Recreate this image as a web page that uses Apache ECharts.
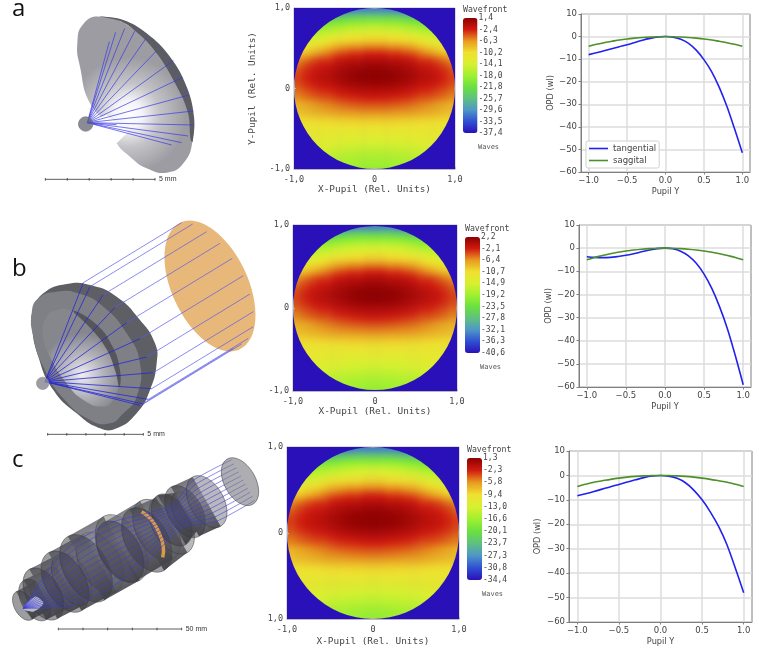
<!DOCTYPE html>
<html>
<head>
<meta charset="utf-8">
<style>
  html, body { margin: 0; padding: 0; background: #fff; }
  #stage { position: relative; width: 759px; height: 651px; overflow: hidden; }
  #chart { position: absolute; left: 0; top: 0; width: 759px; height: 651px; z-index: 2; filter: blur(0.45px); }
  .pupil { position: absolute; overflow: hidden; z-index: 1; }
  .pupil div { position: absolute; filter: blur(2px); }
</style>
<script src="https://cdn.jsdelivr.net/npm/echarts@6/dist/echarts.min.js"></script>
</head>
<body>
<div id="stage"><div id="chart"></div></div>
<script>
// OPD fans
var pupilY = [-1, -0.9, -0.8, -0.7, -0.6, -0.5, -0.4, -0.3, -0.2, -0.1, 0, 0.1, 0.2, 0.3, 0.4, 0.5, 0.6, 0.7, 0.8, 0.9, 1];
var tangentialA = [-8, -7.2, -6.3, -5.4, -4.5, -3.6, -2.6, -1.6, -0.8, -0.2, 0, -0.3, -1.2, -3, -6, -10.2, -15.5, -22.5, -31, -41, -51.5];
var saggitalA = [-4.3, -3.4, -2.7, -2.1, -1.5, -1.05, -0.7, -0.4, -0.18, -0.05, 0, -0.05, -0.18, -0.4, -0.7, -1.05, -1.5, -2.1, -2.7, -3.4, -4.3];
var tangentialB = [-3.7, -4, -4.1, -4, -3.6, -3.1, -2.4, -1.6, -0.8, -0.2, 0, -0.3, -1.3, -3.3, -6.5, -11.2, -17.5, -25.5, -35, -46.5, -59];
var saggitalB = [-5, -4, -3.2, -2.4, -1.8, -1.25, -0.8, -0.45, -0.2, -0.05, 0, -0.05, -0.2, -0.45, -0.8, -1.25, -1.8, -2.4, -3.2, -4, -5];
var tangentialC = [-8.3, -7.5, -6.6, -5.6, -4.6, -3.7, -2.7, -1.8, -0.9, -0.25, 0, -0.3, -1.2, -3, -6, -10, -15, -21, -28.5, -38, -48];
var saggitalC = [-4.5, -3.6, -2.8, -2.2, -1.6, -1.1, -0.7, -0.4, -0.18, -0.05, 0, -0.05, -0.18, -0.4, -0.7, -1.1, -1.6, -2.2, -2.8, -3.6, -4.5];
var xTicks = [-1, -0.5, 0, 0.5, 1];

// wavefront maps: one row per line from pupil top to bottom, columns from x=0 out to the rim (mirror in x)
var waveA = [
  [-31, -31, -31, -31.5, -32],
  [-25, -25, -25, -25.5, -26, -26.5],
  [-20.5, -20.5, -20.5, -21, -21.5, -22, -22.5],
  [-17, -17, -17.5, -17.5, -18, -18.5, -19.5, -20],
  [-14.5, -14.5, -14.5, -15, -15.5, -16, -17, -17.5, -18.5],
  [-12, -12, -12.5, -12.5, -13, -13.5, -14.5, -15, -16],
  [-9.5, -9.5, -10, -10, -10.5, -11, -12, -13, -14, -15],
  [-7, -7, -7.5, -7.5, -8, -8.5, -9.5, -10.5, -11.5, -12.5],
  [-4.5, -4.5, -5, -5, -5.5, -6, -7, -8, -9, -10],
  [-2.5, -2.5, -3, -3, -3.5, -4, -5, -6, -7, -8, -8.5],
  [-1, -1, -1.5, -1.5, -2, -2.5, -3.5, -3.6, -4.3, -5.5, -6.3],
  [0, 0, -0.5, -0.5, -1, -1.5, -2.5, -2.6, -3.3, -4, -5.3],
  [0.8, 0.7, 0.5, 0.2, -0.2, -0.8, -1.5, -1.9, -2.5, -3.3, -4.3],
  [1.2, 1.1, 1, 0.6, 0.2, -0.3, -1, -1.4, -2, -2.8, -3.8],
  [1.2, 1.1, 1, 0.7, 0.2, -0.3, -1, -1.3, -1.9, -2.7, -3.6],
  [0.7, 0.6, 0.5, 0.2, -0.2, -0.8, -1.4, -1.7, -2.3, -3, -3.9],
  [-0.3, -0.4, -0.5, -0.8, -1.2, -1.7, -2.3, -2.6, -3.1, -3.7, -4.5],
  [-1.3, -1.4, -1.5, -1.8, -2.1, -2.6, -3.2, -3.4, -3.9, -4.5, -5.3],
  [-2.5, -2.5, -2.7, -2.9, -3.2, -3.6, -4.1, -4.3, -4.7, -5.2, -5.8],
  [-3.8, -3.8, -4, -4.1, -4.4, -4.8, -5.2, -5.7, -6.2, -6.9, -7.6],
  [-5, -5, -5.1, -5.3, -5.5, -5.8, -6.1, -6.5, -7, -7.5, -8.1],
  [-6.2, -6.2, -6.3, -6.4, -6.6, -6.8, -7.1, -7.4, -7.8, -8.2, -8.6],
  [-8, -8, -8.1, -8.1, -8.3, -8.4, -8.6, -8.8, -9, -9.3, -9.6],
  [-9.6, -9.6, -9.6, -9.7, -9.8, -9.9, -10, -10.1, -10.3, -10.5, -10.7],
  [-11, -11, -11, -11, -11.1, -11.1, -11.1, -11.2, -11.2, -11.3],
  [-12, -12, -12, -12, -11.9, -11.9, -11.8, -11.8, -11.7, -11.6],
  [-13, -13, -13, -12.9, -12.8, -12.7, -12.5, -12.3, -12.1, -11.9],
  [-14, -14, -13.9, -13.8, -13.6, -13.4, -13.2, -12.9, -12.6],
  [-15, -15, -14.9, -14.8, -14.6, -14.3, -14, -13.7, -13.3],
  [-16, -16, -15.9, -15.7, -15.5, -15.2, -14.9, -14.4],
  [-17, -17, -16.9, -16.7, -16.4, -16.1, -15.7],
  [-17.8, -17.8, -17.6, -17.4, -17.1, -16.8],
  [-18.5, -18.5, -18.3, -18.1, -17.8]
];
var waveB = [
  [-33.5, -33.5, -33.5, -34.1, -34.6],
  [-26.9, -26.9, -26.9, -27.5, -28, -28.6],
  [-22, -22, -22, -22.5, -23, -23.6, -24.2],
  [-18.1, -18.1, -18.6, -18.6, -19.2, -19.7, -20.8, -21.4],
  [-15.3, -15.3, -15.3, -15.9, -16.4, -17, -18.1, -18.6, -19.7],
  [-12.6, -12.6, -13.1, -13.1, -13.7, -14.2, -15.3, -15.9, -17],
  [-9.8, -9.8, -10.4, -10.4, -10.9, -11.5, -12.6, -13.7, -14.8, -15.9],
  [-7.1, -7.1, -7.6, -7.6, -8.2, -8.7, -9.8, -10.9, -12, -13.1],
  [-4.3, -4.3, -4.9, -4.9, -5.4, -6, -7.1, -8.2, -9.3, -10.4],
  [-2.1, -2.1, -2.6, -2.6, -3.2, -3.8, -4.9, -6, -7.1, -8.2, -8.7],
  [-0.4, -0.4, -1, -1, -1.5, -2.1, -3.2, -3.4, -4.2, -5.5, -6.4],
  [0.7, 0.7, 0.1, 0.1, -0.4, -1, -2.1, -2.2, -3.1, -3.9, -5.3],
  [1.5, 1.4, 1.2, 0.9, 0.4, -0.2, -1, -1.5, -2.2, -3.1, -4.2],
  [2, 1.9, 1.8, 1.3, 0.9, 0.3, -0.4, -0.9, -1.6, -2.5, -3.7],
  [2, 1.9, 1.8, 1.4, 0.9, 0.3, -0.4, -0.8, -1.5, -2.4, -3.4],
  [1.4, 1.3, 1.2, 0.9, 0.4, -0.2, -0.9, -1.3, -1.9, -2.8, -3.8],
  [0.3, 0.2, 0.1, -0.2, -0.7, -1.2, -1.9, -2.2, -2.8, -3.5, -4.4],
  [-0.8, -0.9, -1, -1.3, -1.7, -2.2, -2.9, -3.1, -3.7, -4.4, -5.3],
  [-2.1, -2.1, -2.3, -2.5, -2.9, -3.3, -3.9, -4.1, -4.6, -5.2, -5.9],
  [-3.5, -3.5, -3.7, -3.9, -4.2, -4.6, -5.1, -5.6, -6.2, -7, -7.7],
  [-4.9, -4.9, -5, -5.2, -5.4, -5.7, -6.1, -6.5, -7.1, -7.6, -8.3],
  [-6.2, -6.2, -6.3, -6.4, -6.6, -6.8, -7.2, -7.5, -8, -8.4, -8.8],
  [-8.2, -8.2, -8.3, -8.3, -8.5, -8.6, -8.8, -9, -9.3, -9.6, -10],
  [-10, -10, -10, -10.1, -10.2, -10.3, -10.4, -10.5, -10.7, -11, -11.1],
  [-11.5, -11.5, -11.5, -11.5, -11.6, -11.6, -11.6, -11.7, -11.7, -11.8],
  [-12.6, -12.6, -12.6, -12.6, -12.5, -12.5, -12.4, -12.4, -12.2, -12.1],
  [-13.7, -13.7, -13.7, -13.6, -13.5, -13.3, -13.1, -12.9, -12.7, -12.5],
  [-14.8, -14.8, -14.7, -14.6, -14.3, -14.1, -13.9, -13.6, -13.2],
  [-15.9, -15.9, -15.8, -15.7, -15.4, -15.1, -14.8, -14.4, -14],
  [-17, -17, -16.9, -16.7, -16.4, -16.1, -15.8, -15.2],
  [-18.1, -18.1, -18, -17.8, -17.4, -17.1, -16.7],
  [-19, -19, -18.7, -18.5, -18.2, -17.9],
  [-19.7, -19.7, -19.5, -19.3, -19]
];
var waveC = [
  [-28.5, -28.5, -28.5, -29, -29.4],
  [-23, -23, -23, -23.5, -23.9, -24.4],
  [-18.9, -18.9, -18.9, -19.3, -19.8, -20.2, -20.7],
  [-15.6, -15.6, -16.1, -16.1, -16.6, -17, -17.9, -18.4],
  [-13.3, -13.3, -13.3, -13.8, -14.3, -14.7, -15.6, -16.1, -17],
  [-11, -11, -11.5, -11.5, -12, -12.4, -13.3, -13.8, -14.7],
  [-8.7, -8.7, -9.2, -9.2, -9.7, -10.1, -11, -12, -12.9, -13.8],
  [-6.4, -6.4, -6.9, -6.9, -7.4, -7.8, -8.7, -9.7, -10.6, -11.5],
  [-4.1, -4.1, -4.6, -4.6, -5.1, -5.5, -6.4, -7.4, -8.3, -9.2],
  [-2.3, -2.3, -2.8, -2.8, -3.2, -3.7, -4.6, -5.5, -6.4, -7.4, -7.8],
  [-0.9, -0.9, -1.4, -1.4, -1.8, -2.3, -3.2, -3.3, -3.9, -5, -5.7],
  [0, 0, -0.5, -0.5, -0.9, -1.4, -2.3, -2.4, -3, -3.6, -4.8],
  [0.7, 0.6, 0.5, 0.2, -0.2, -0.7, -1.4, -1.7, -2.2, -3, -3.9],
  [1.1, 1, 0.9, 0.6, 0.2, -0.3, -0.9, -1.3, -1.8, -2.5, -3.4],
  [1.1, 1, 0.9, 0.6, 0.2, -0.3, -0.9, -1.2, -1.7, -2.4, -3.2],
  [0.6, 0.6, 0.5, 0.2, -0.2, -0.7, -1.3, -1.5, -2.1, -2.7, -3.5],
  [-0.3, -0.4, -0.5, -0.7, -1.1, -1.6, -2.1, -2.4, -2.8, -3.3, -4],
  [-1.2, -1.3, -1.4, -1.7, -1.9, -2.4, -2.9, -3.1, -3.5, -4.1, -4.8],
  [-2.3, -2.3, -2.5, -2.7, -2.9, -3.3, -3.8, -3.9, -4.3, -4.7, -5.2],
  [-3.5, -3.5, -3.7, -3.8, -4, -4.4, -4.8, -5.2, -5.7, -6.3, -7],
  [-4.6, -4.6, -4.7, -4.9, -5.1, -5.3, -5.6, -6, -6.4, -6.9, -7.5],
  [-5.7, -5.7, -5.8, -5.9, -6.1, -6.3, -6.5, -6.8, -7.2, -7.5, -7.9],
  [-7.4, -7.4, -7.5, -7.5, -7.6, -7.7, -7.9, -8.1, -8.3, -8.6, -8.8],
  [-8.8, -8.8, -8.8, -8.9, -9, -9.1, -9.2, -9.3, -9.5, -9.7, -9.8],
  [-10.1, -10.1, -10.1, -10.1, -10.2, -10.2, -10.2, -10.3, -10.3, -10.4],
  [-11, -11, -11, -11, -10.9, -10.9, -10.9, -10.9, -10.8, -10.7],
  [-12, -12, -12, -11.9, -11.8, -11.7, -11.5, -11.3, -11.1, -10.9],
  [-12.9, -12.9, -12.8, -12.7, -12.5, -12.3, -12.1, -11.9, -11.6],
  [-13.8, -13.8, -13.7, -13.6, -13.4, -13.2, -12.9, -12.6, -12.2],
  [-14.7, -14.7, -14.6, -14.4, -14.3, -14, -13.7, -13.2],
  [-15.6, -15.6, -15.5, -15.4, -15.1, -14.8, -14.4],
  [-16.4, -16.4, -16.2, -16, -15.7, -15.5],
  [-17, -17, -16.8, -16.7, -16.4]
];

// colour bar tick labels, bottom to top
var barLabelsA = ['-37,4', '-33,5', '-29,6', '-25,7', '-21,8', '-18,0', '-14,1', '-10,2', '-6,3', '-2,4', '1,4'];
var barLabelsB = ['-40,6', '-36,3', '-32,1', '-27,8', '-23,5', '-19,2', '-14,9', '-10,7', '-6,4', '-2,1', '2,2'];
var barLabelsC = ['-34,4', '-30,8', '-27,3', '-23,7', '-20,1', '-16,6', '-13,0', '-9,4', '-5,8', '-2,3', '1,3'];
var waveColors = ['#2a10b8', '#2f50d2', '#4f96c8', '#5fc080', '#6be040', '#a0f030', '#d8f030', '#f0e030', '#e89a20', '#d01a10', '#8c0000'];

var MONO = '"DejaVu Sans Mono", monospace';
var SANS = '"DejaVu Sans", sans-serif';
var BLUE_BG = '#2a10b8';

var option = {
  animation: false,
  grid: [], xAxis: [], yAxis: [], series: [], visualMap: [], graphic: []
};

// the heat cells sit on their own softly blurred layer under the main chart; the reference is a resampled bitmap
function drawPupil(rows, lo, hi, box) {
  var w = box[2], h = box[3];
  var outer = document.createElement('div');
  outer.className = 'pupil';
  outer.style.cssText = 'left:' + box[0] + 'px;top:' + box[1] + 'px;width:' + w + 'px;height:' + h + 'px;background:' + BLUE_BG;
  var inner = document.createElement('div');
  var cw = w / 21, ch = h / 33;
  inner.style.cssText = 'left:' + (-2 * cw) + 'px;top:' + (-ch) + 'px;width:' + (25 * cw) + 'px;height:' + (35 * ch) + 'px';
  outer.appendChild(inner);
  document.getElementById('stage').appendChild(outer);

  // rows run on past the rim so the blur has something to pull from; the blue mask above hides it
  var padded = [rows[0]].concat(rows, [rows[rows.length - 1]]);
  var cells = [];
  padded.forEach(function (half, j) {
    for (var i = 0; i <= 12; i++) {
      var v = half[Math.min(i, half.length - 1)];
      cells.push([12 + i, j, v]);
      if (i > 0) cells.push([12 - i, j, v]);
    }
  });
  var cols = [], lines = [];
  for (var c = 0; c < 25; c++) cols.push(c);
  for (var r = 0; r < 35; r++) lines.push(r);
  var heat = echarts.init(inner);
  heat.setOption({
    animation: false,
    grid: { left: 0, right: 0, top: 0, bottom: 0 },
    xAxis: { type: 'category', data: cols, show: false },
    yAxis: { type: 'category', data: lines, show: false, inverse: true },
    visualMap: { show: false, min: lo, max: hi, inRange: { color: waveColors } },
    series: [{ type: 'heatmap', data: cells, progressive: 0, silent: true, itemStyle: { borderWidth: 0 } }]
  });
}

function addWavefront(rows, labels, box, bar, opts) {
  var grid = option.grid.length;
  var xi = option.xAxis.length, yi = option.yAxis.length;
  var lo = parseFloat(labels[0].replace(',', '.'));
  var hi = parseFloat(labels[labels.length - 1].replace(',', '.'));
  drawPupil(rows, lo, hi, box);

  option.grid.push({ left: box[0], top: box[1], width: box[2], height: box[3], show: true, borderColor: '#b8b8b8', borderWidth: 1 });
  option.xAxis.push({
    type: 'value', gridIndex: grid, min: -1, max: 1, interval: 1, position: 'bottom',
    name: 'X-Pupil (Rel. Units)', nameLocation: 'middle', nameGap: opts.xGap,
    nameTextStyle: { fontFamily: MONO, fontSize: 9.4, color: '#444' },
    axisLine: { onZero: false, lineStyle: { color: '#b8b8b8' } },
    axisTick: { length: 2, inside: true, lineStyle: { color: '#b8b8b8' } },
    splitLine: { show: false },
    axisLabel: { margin: 6, fontFamily: MONO, fontSize: 8.5, color: '#444', formatter: function (v) { return v === 0 ? '0' : v.toFixed(1).replace('.', ','); } }
  });
  option.yAxis.push({
    type: 'value', gridIndex: grid, min: -1, max: 1, interval: 1, position: 'left',
    name: opts.yName || '', nameLocation: 'middle', nameGap: 37,
    nameTextStyle: { fontFamily: MONO, fontSize: 9.4, color: '#444' },
    axisLine: { onZero: false, lineStyle: { color: '#b8b8b8' } },
    axisTick: { length: 2, inside: true, lineStyle: { color: '#b8b8b8' } },
    splitLine: { show: false },
    axisLabel: { margin: 4, fontFamily: MONO, fontSize: 8.5, color: '#444', formatter: function (v) {
      if (v === 0) return '0';
      if (v < 0 && opts.clipBottom) return '1,0';
      return v.toFixed(1).replace('.', ',');
    } }
  });
  // blue surround of the pupil, so the rim is a true circle
  var maskIndex = option.series.length;
  option.series.push({
    type: 'custom', xAxisIndex: xi, yAxisIndex: yi, silent: true, z: 3, clip: false,
    data: [[0, 0]],
    renderItem: function (params, api) {
      var a = api.coord([-1, 1]), b = api.coord([1, -1]), c = api.coord([0, 0]);
      var R = (b[0] - a[0]) / 2;
      var d = 'M' + a[0] + ' ' + a[1] + 'H' + b[0] + 'V' + b[1] + 'H' + a[0] + 'Z' +
        'M' + (c[0] - R) + ' ' + c[1] + 'A' + R + ' ' + R + ' 0 1 0 ' + (c[0] + R) + ' ' + c[1] +
        'A' + R + ' ' + R + ' 0 1 0 ' + (c[0] - R) + ' ' + c[1] + 'Z';
      return { type: 'path', shape: { pathData: d }, style: { fill: BLUE_BG } };
    }
  });

  option.visualMap.push({
    type: 'continuous', seriesIndex: maskIndex, min: lo, max: hi, calculable: false, realtime: false,
    left: bar[0], top: bar[1], itemWidth: bar[2], itemHeight: bar[3], padding: 0, text: null,
    inRange: { color: waveColors }, hoverLink: false
  });

  // colour bar ticks
  var bg = option.grid.length;
  option.grid.push({ left: bar[0], top: bar[1], width: bar[2], height: bar[3] });
  option.xAxis.push({ type: 'category', gridIndex: bg, show: false, data: [''] });
  option.yAxis.push({
    type: 'category', gridIndex: bg, data: labels, position: 'right', boundaryGap: false,
    axisLine: { show: false }, axisTick: { show: false }, splitLine: { show: false },
    axisLabel: { interval: 0, margin: 1, fontFamily: MONO, fontSize: 8, color: '#444' }
  });
  option.graphic.push(txt('Wavefront', bar[0], bar[1] - 8, MONO, 8.2, '#444'));
  option.graphic.push(txt('Waves', bar[0] + 15, bar[1] + bar[3] + 14, MONO, 7, '#555'));
}

function addFan(tang, sag, box, nameGapY, legend) {
  var grid = option.grid.length;
  var xi = option.xAxis.length, yi = option.yAxis.length;
  var axisColor = '#7f7f7f', textColor = '#444';
  option.grid.push({ left: box[0], top: box[1], width: box[2], height: box[3], show: true, borderColor: axisColor, borderWidth: 1 });
  option.xAxis.push({
    type: 'value', gridIndex: grid, min: -1.1, max: 1.1,
    name: 'Pupil Y', nameLocation: 'middle', nameGap: 16,
    nameTextStyle: { fontFamily: SANS, fontSize: 8.2, color: textColor },
    axisLine: { onZero: false, lineStyle: { color: axisColor } },
    axisTick: { customValues: xTicks, length: 2.5, lineStyle: { color: axisColor } },
    splitLine: { show: false },
    axisLabel: { customValues: xTicks, margin: 4, fontFamily: SANS, fontSize: 8.5, color: textColor, formatter: function (v) { return v.toFixed(1).replace('-', '\u2212'); } }
  });
  option.yAxis.push({
    type: 'value', gridIndex: grid, min: -60, max: 10, interval: 10,
    name: 'OPD (wl)', nameLocation: 'middle', nameGap: nameGapY,
    nameTextStyle: { fontFamily: SANS, fontSize: 8.2, color: textColor },
    axisLine: { onZero: false, lineStyle: { color: axisColor } },
    axisTick: { length: 2.5, lineStyle: { color: axisColor } },
    splitLine: { lineStyle: { color: '#dcdcdc', width: 1.5 } },
    axisLabel: { margin: 4, fontFamily: SANS, fontSize: 8.5, color: textColor, formatter: function (v) { return String(v).replace('-', '\u2212'); } }
  });
  option.series.push({
    type: 'line', name: 'tangential', xAxisIndex: xi, yAxisIndex: yi, showSymbol: false, smooth: 0.3, silent: true,
    data: pupilY.map(function (x, i) { return [x, tang[i]]; }),
    lineStyle: { color: '#2222ee', width: 1.6 }, itemStyle: { color: '#2222ee' }, z: 3,
    markLine: {
      silent: true, symbol: 'none', z: 1, animation: false, label: { show: false },
      lineStyle: { color: '#dcdcdc', width: 1.5, type: 'solid' },
      data: xTicks.map(function (v) { return { xAxis: v }; })
    }
  });
  option.series.push({
    type: 'line', name: 'saggital', xAxisIndex: xi, yAxisIndex: yi, showSymbol: false, smooth: 0.3, silent: true,
    data: pupilY.map(function (x, i) { return [x, sag[i]]; }),
    lineStyle: { color: '#4d8f28', width: 1.6 }, itemStyle: { color: '#4d8f28' }, z: 3
  });
  if (legend) {
    option.legend = {
      data: ['tangential', 'saggital'], orient: 'vertical', left: legend[0], top: legend[1], selectedMode: false,
      icon: 'rect', itemWidth: 19, itemHeight: 1.6, itemGap: 3, padding: [3, 3, 3, 3],
      borderColor: '#d0d0d0', borderWidth: 1, borderRadius: 2, backgroundColor: 'rgba(255,255,255,0.8)',
      textStyle: { fontFamily: SANS, fontSize: 8.5, color: textColor }
    };
  }
}

function txt(text, x, y, font, size, color) {
  return { type: 'text', x: x, y: y, style: { text: text, fill: color, font: size + 'px ' + font, align: 'left', verticalAlign: 'middle' } };
}

// Optical layouts on the left are drawn in 3x crop coordinates, ox/oy shift them on to the page
function P(list, ox, oy) {
  return list.map(function (p) { return [ox + p[0] / 3, oy + p[1] / 3]; });
}
function blob(list, ox, oy, fill, smooth) {
  return { type: 'polygon', shape: { points: P(list, ox, oy), smooth: smooth === undefined ? 0.5 : smooth }, style: { fill: fill } };
}
function ray(a, b, ox, oy, color, w) {
  var q = P([a, b], ox, oy);
  return { type: 'line', shape: { x1: q[0][0], y1: q[0][1], x2: q[1][0], y2: q[1][1] }, style: { stroke: color || '#3a3ae6', lineWidth: w || 0.7 } };
}
function scaleBar(x0, x1, n, y, ox, oy, label) {
  var out = [ray([x0, y], [x1, y], ox, oy, '#333', 0.8)];
  for (var i = 0; i <= n; i++) {
    var tx = x0 + (x1 - x0) * i / n;
    out.push(ray([tx, y - 4], [tx, y + 4], ox, oy, '#333', 0.8));
  }
  var q = P([[x1 + 12, y]], ox, oy)[0];
  out.push(txt(label, q[0], q[1], '"Liberation Sans", sans-serif', 7, '#333'));
  return out;
}
function radial(x, y, r, stops) {
  return { type: 'radial', x: x, y: y, r: r, global: true, colorStops: stops };
}

function layoutA() {
  var ox = 0, oy = 0, g = [];
  var dish = [[300, 50], [250, 72], [232, 130], [240, 200], [270, 310], [330, 380], [350, 430], [390, 470], [440, 505], [500, 518], [550, 490], [578, 420], [575, 340], [540, 240], [470, 150], [400, 85]];
  var rim = [[300, 50], [370, 60], [440, 100], [510, 170], [560, 260], [582, 350], [578, 425], [572, 420], [563, 335], [520, 240], [470, 160], [420, 105], [365, 65]];
  g.push(blob(dish, ox, oy, radial(128, 115, 58, [
    { offset: 0, color: '#ffffff' }, { offset: 0.25, color: '#f4f4f6' }, { offset: 0.55, color: '#c4c4c8' }, { offset: 1, color: '#9c9ca2' }
  ])));
  g.push(blob(rim, ox, oy, '#5c5c64', 0.4));
  // white wedge by the focus where the dish is cut away
  g.push(blob([[262, 368], [320, 345], [385, 395], [350, 430]], ox, oy, '#ffffff', 0));
  var ends = [[328, 125], [347, 97], [374, 85], [405, 92], [438, 115], [470, 152], [520, 182], [548, 232], [567, 285], [580, 333], [580, 375], [565, 408], [545, 428], [515, 435]];
  ends.forEach(function (e) { g.push(ray([262, 368], e, ox, oy)); });
  g.push({ type: 'circle', shape: { cx: 257 / 3, cy: 372 / 3, r: 7.2 }, style: { fill: 'rgba(110,110,125,0.8)', stroke: '#777', lineWidth: 0.7 } });
  g.push(ray([262, 368], [350, 374], ox, oy));
  return g.concat(scaleBar(136, 465, 5, 538, ox, oy, '5 mm'));
}

function layoutB() {
  var ox = 0, oy = 210, g = [];
  g.push({
    type: 'ellipse', x: ox + 630 / 3, y: oy + 228 / 3, rotation: 0.44,
    shape: { cx: 0, cy: 0, rx: 38, ry: 70 }, style: { fill: '#e8b87a' }
  });
  var outer = [[100, 300], [130, 250], [200, 222], [270, 225], [350, 260], [420, 330], [465, 400], [470, 460], [450, 540], [410, 610], [350, 655], [300, 655], [230, 610], [160, 540], [115, 440], [95, 340]];
  var face = [[95, 310], [115, 265], [170, 245], [235, 250], [310, 290], [380, 370], [420, 460], [410, 560], [370, 610], [330, 640], [270, 630], [190, 565], [130, 470], [100, 380]];
  var inner = [[135, 330], [170, 300], [220, 305], [280, 345], [330, 410], [355, 480], [355, 530], [340, 570], [310, 590], [250, 570], [200, 520], [150, 440], [130, 380]];
  var lip = [[220, 303], [285, 340], [335, 405], [360, 480], [358, 530], [345, 480], [318, 415], [272, 355]];
  g.push(blob(outer, ox, oy, '#5e5e65'));
  g.push(blob(face, ox, oy, '#7f7f86'));
  g.push(blob(inner, ox, oy, radial(82, oy + 165, 42, [
    { offset: 0, color: '#f0f0f2' }, { offset: 0.5, color: '#b4b4ba' }, { offset: 1, color: '#86868d' }
  ])));
  g.push(blob(lip, ox, oy, '#55555b'));
  var hits = [[250, 218], [270, 230], [310, 254], [345, 292], [380, 338], [420, 386], [440, 441], [460, 488], [455, 536], [445, 568], [430, 582], [420, 586]];
  var far = [[545, 38], [578, 42], [620, 65], [660, 100], [697, 145], [730, 197], [750, 252], [760, 305], [760, 350], [745, 385], [725, 402], [700, 415]];
  hits.forEach(function (h, i) {
    g.push(ray([135, 515], h, ox, oy, '#2626dc', 0.8));
    g.push(ray(h, far[i], ox, oy, '#5a5ae6', 0.7));
  });
  g.push({ type: 'circle', shape: { cx: 128 / 3, cy: oy + 520 / 3, r: 6.2 }, style: { fill: 'rgba(140,140,150,0.85)', stroke: '#8a8a8a', lineWidth: 0.6 } });
  return g.concat(scaleBar(143, 430, 5, 673, ox, oy, '5 mm'));
}

function layoutC() {
  var ox = 0, oy = 440, g = [];
  var ux = 0.495, uy = 0.87, tilt = 0.516;
  function ring(cx, cy, r, fill, stroke) {
    return {
      type: 'ellipse', x: ox + cx / 3, y: oy + cy / 3, rotation: tilt,
      shape: { cx: 0, cy: 0, rx: r * 0.6 / 3, ry: r / 3 },
      style: { fill: fill, stroke: stroke || 'rgba(60,60,66,0.8)', lineWidth: 0.6 }
    };
  }
  function hull(s) {
    return blob([
      [s[0] - ux * s[2], s[1] - uy * s[2]], [s[3] - ux * s[5], s[4] - uy * s[5]],
      [s[3] + ux * s[5], s[4] + uy * s[5]], [s[0] + ux * s[2], s[1] + uy * s[2]]
    ], ox, oy, {
      type: 'linear', x: 0, y: 0, x2: 0.6, y2: 1, colorStops: [
        { offset: 0, color: 'rgba(65,65,72,0.9)' }, { offset: 0.45, color: 'rgba(150,150,158,0.75)' }, { offset: 1, color: 'rgba(65,65,72,0.92)' }
      ]
    }, 0);
  }
  var segments = [
    [72, 497, 48, 125, 467, 48],
    [105, 480, 68, 175, 445, 68],
    [130, 462, 85, 215, 418, 85],
    [195, 425, 100, 300, 368, 100],
    [258, 385, 110, 365, 325, 110],
    [360, 335, 100, 470, 270, 100],
    [440, 300, 105, 515, 255, 95],
    [515, 240, 85, 560, 215, 65],
    [555, 215, 85, 620, 185, 85]
  ];
  segments.forEach(function (s) {
    g.push(hull(s));
    g.push(ring(s[0], s[1], s[2], 'rgba(60,60,66,0.5)'));
    g.push(ring(s[3], s[4], s[5], 'rgba(80,80,86,0.4)'));
  });
  // orange stop ring
  g.push({
    type: 'polyline',
    shape: { points: P([[425, 215], [455, 240], [478, 280], [490, 320], [488, 352]], ox, oy), smooth: 0.5 },
    style: { stroke: '#d99a4a', lineWidth: 3.5, fill: null }
  });
  // bright cone by the image plane
  g.push(blob([[70, 505], [105, 470], [130, 490], [100, 515]], ox, oy, 'rgba(225,225,232,0.75)', 0.3));
  var path = [[70, 505, 0], [175, 445, 62], [260, 385, 85], [380, 315, 80], [460, 270, 55], [540, 225, 38], [610, 185, 70], [730, 120, 70]];
  for (var t = -5; t <= 5; t++) {
    var pts = path.map(function (s) { return [s[0] + ux * s[2] * t / 5, s[1] + uy * s[2] * t / 5]; });
    g.push({ type: 'polyline', shape: { points: P(pts, ox, oy), smooth: 0.25 }, style: { stroke: '#3a3ae6', lineWidth: 0.6, fill: null } });
  }
  g.push(ring(720, 125, 78, 'rgba(120,120,126,0.6)'));
  return g.concat(scaleBar(175, 545, 5, 567, ox, oy, '50 mm'));
}

addWavefront(waveA, barLabelsA, [294, 8, 161, 161], [463, 18, 14.5, 115], { yName: 'Y-Pupil (Rel. Units)', xGap: 16 });
addWavefront(waveB, barLabelsB, [293, 225, 164, 166], [465, 237, 15, 116], { xGap: 16 });
addWavefront(waveC, barLabelsC, [287, 447, 172, 172], [467, 458, 15, 122], { clipBottom: true, xGap: 18 });

addFan(tangentialA, saggitalA, [581, 14, 169, 158], 20, [586, 141]);
addFan(tangentialB, saggitalB, [579, 225, 172, 162], 25, null);
addFan(tangentialC, saggitalC, [569, 451, 183, 171], 27, null);

option.graphic = option.graphic
  .concat(layoutA(), layoutB(), layoutC())
  .concat([
    txt('a', 12, 9.5, '"Open Sans", sans-serif', 24, '#111'),
    txt('b', 12, 269, '"Open Sans", sans-serif', 24, '#111'),
    txt('c', 12, 460, '"Open Sans", sans-serif', 24, '#111')
  ]);

var myChart = echarts.init(document.getElementById('chart'));
myChart.setOption(option);
</script>
</body>
</html>
